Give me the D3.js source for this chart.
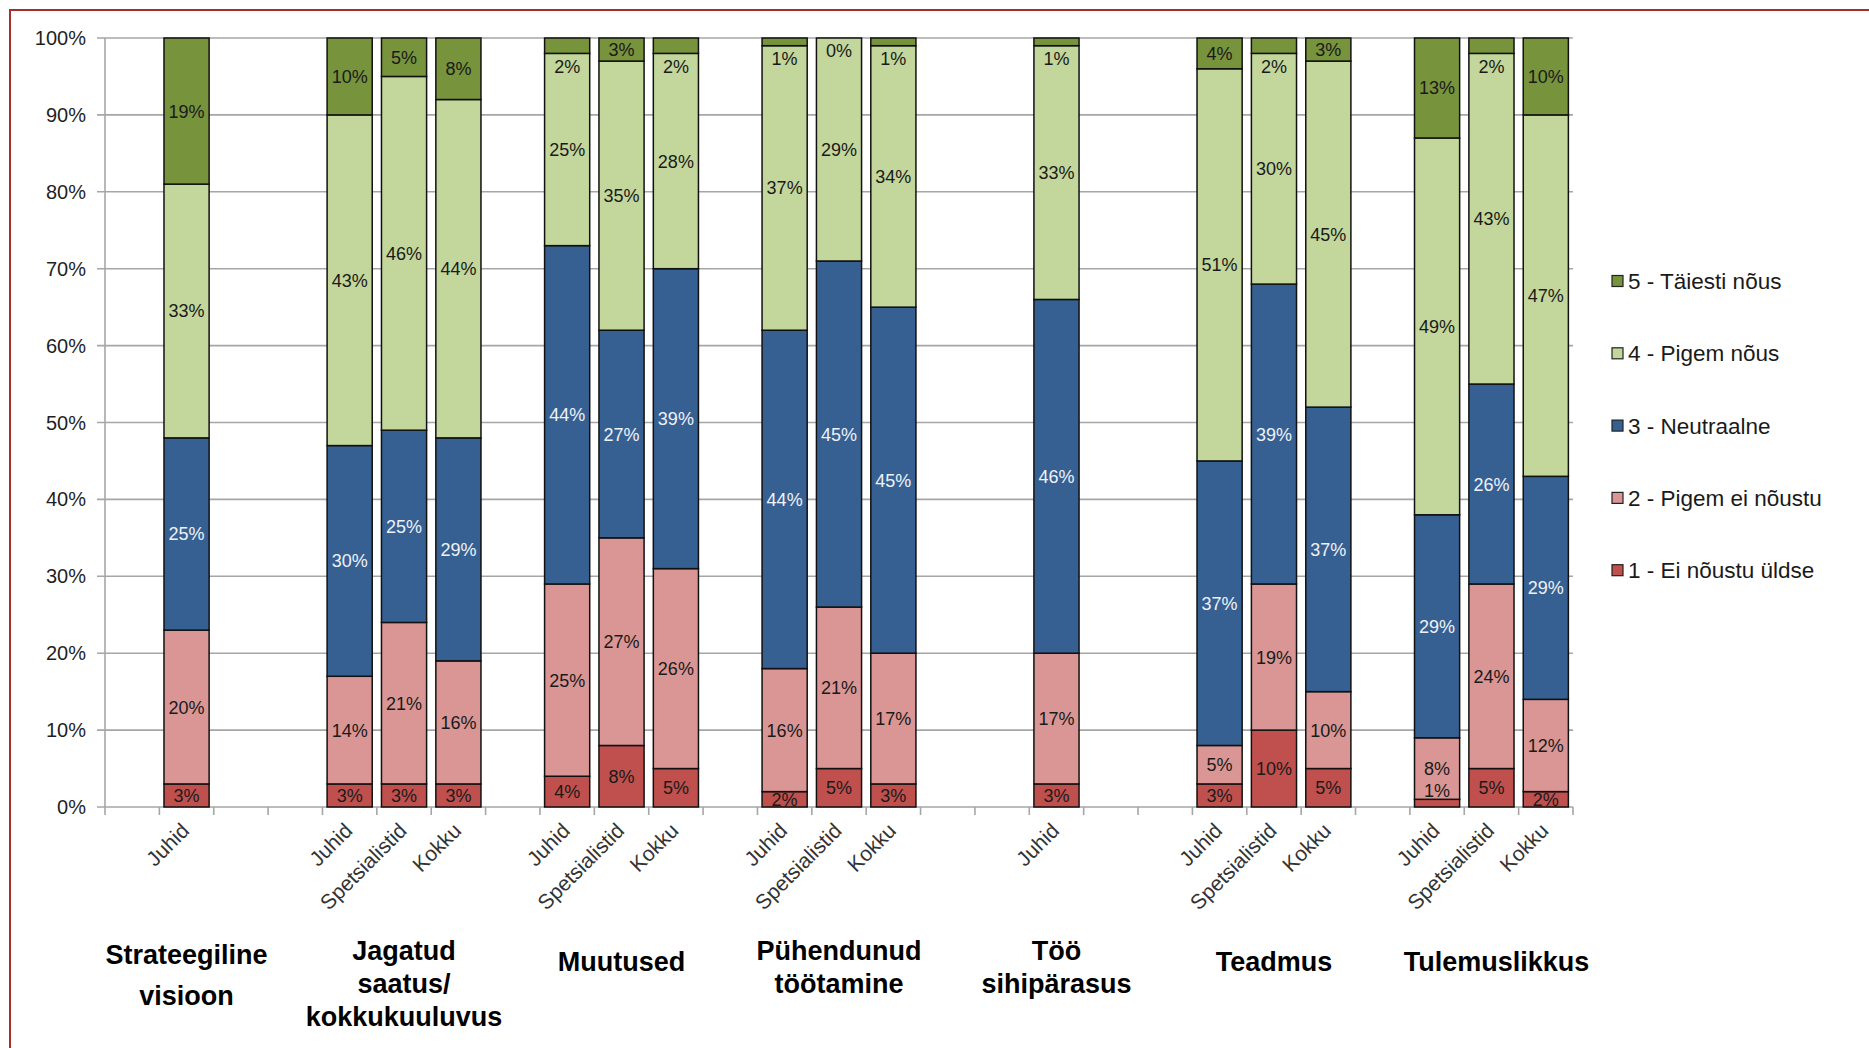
<!DOCTYPE html>
<html>
<head>
<meta charset="utf-8">
<script src="https://cdn.jsdelivr.net/npm/d3@7"></script>
<style>
  html, body { margin: 0; padding: 0; background: #fff; }
  svg { display: block; font-family: "Liberation Sans", Arial, Helvetica, sans-serif; }
</style>
</head>
<body>
<svg id="chart" width="1869" height="1048"></svg>
<script>
// ---- Data -------------------------------------------------------------
// Topic groups (label lines) and respondent groups per bar
const groupLabels = [
  ["Strateegiline", "visioon"],
  ["Jagatud", "saatus/", "kokkukuuluvus"],
  ["Muutused"],
  ["Pühendunud", "töötamine"],
  ["Töö", "sihipärasus"],
  ["Teadmus"],
  ["Tulemuslikkus"]
];
const roleNames = ["Juhid", "Spetsialistid", "Kokku"];

// One entry per bar: topic index and respondent-group index
const barGroup = [0, 1, 1, 1, 2, 2, 2, 3, 3, 3, 4, 5, 5, 5, 6, 6, 6];
const barRole  = [0, 0, 1, 2, 0, 1, 2, 0, 1, 2, 0, 0, 1, 2, 0, 1, 2];

// Answer shares (%) per bar, one array per answer option
const eiNoustuYldse   = [ 3,  3,  3,  3,  4,  8,  5,  2,  5,  3,  3,  3, 10,  5,  1,  5,  2];
const pigemEiNoustu   = [20, 14, 21, 16, 25, 27, 26, 16, 21, 17, 17,  5, 19, 10,  8, 24, 12];
const neutraalne      = [25, 30, 25, 29, 44, 27, 39, 44, 45, 45, 46, 37, 39, 37, 29, 26, 29];
const pigemNous       = [33, 43, 46, 44, 25, 35, 28, 37, 29, 34, 33, 51, 30, 45, 49, 43, 47];
const taiestiNous     = [19, 10,  5,  8,  2,  3,  2,  1,  0,  1,  1,  4,  2,  3, 13,  2, 10];

const seriesNames = [
  "1 - Ei nõustu üldse",
  "2 - Pigem ei nõustu",
  "3 - Neutraalne",
  "4 - Pigem nõus",
  "5 - Täiesti nõus"
];
const seriesValues = [eiNoustuYldse, pigemEiNoustu, neutraalne, pigemNous, taiestiNous];

const yTickValues = [0, 0.1, 0.2, 0.3, 0.4, 0.5, 0.6, 0.7, 0.8, 0.9, 1.0];

// ---- Styles -------------------------------------------------------------
const seriesColors = ["#C0504D", "#D99694", "#376092", "#C3D69B", "#77933C"];
const labelColors  = ["#1a1a1a", "#1a1a1a", "#EEF2F8", "#1a1a1a", "#1a1a1a"];
const gridColor = "#A6A6A6";

// ---- Layout -------------------------------------------------------------
const svg = d3.select("#chart");
const plot = { left: 105, right: 1573, top: 38, bottom: 807 };

// Each topic takes three slots, with one empty slot between topics
const slotCount = groupLabels.length * 4 - 1;
const x = d3.scaleBand()
  .domain(d3.range(slotCount))
  .range([plot.left, plot.right])
  .paddingInner(0.17)
  .paddingOuter(0.085);
const y = d3.scaleLinear().domain([0, 1]).range([plot.bottom, plot.top]);

const groupSize = groupLabels.map((_, g) => barGroup.filter(v => v === g).length);
const slotOf = i => 4 * barGroup[i] + (groupSize[barGroup[i]] === 1 ? 1 : barRole[i]);

const keys = seriesNames.map((_, k) => "s" + k);
const rows = barGroup.map((g, i) => {
  const r = { slot: slotOf(i), role: roleNames[barRole[i]] };
  seriesValues.forEach((arr, k) => { r["s" + k] = arr[i]; });
  return r;
});
const stacked = d3.stack().keys(keys).offset(d3.stackOffsetExpand)(rows);

// ---- Chart frame ------------------------------------------------------
svg.append("rect")
  .attr("x", 10).attr("y", 10)
  .attr("width", 1900).attr("height", 1100)
  .attr("fill", "none")
  .attr("stroke", "#A3302C")
  .attr("stroke-width", 2);

// ---- Gridlines + y axis -----------------------------------------------
svg.append("g").selectAll("line")
  .data(yTickValues)
  .join("line")
  .attr("x1", plot.left - 8).attr("x2", plot.right)
  .attr("y1", d => y(d)).attr("y2", d => y(d))
  .attr("stroke", gridColor).attr("stroke-width", 1.6);

svg.append("line")
  .attr("x1", plot.left).attr("x2", plot.left)
  .attr("y1", plot.top).attr("y2", plot.bottom)
  .attr("stroke", gridColor).attr("stroke-width", 1.6);

svg.append("g").selectAll("text")
  .data(yTickValues)
  .join("text")
  .attr("x", plot.left - 19)
  .attr("y", d => y(d))
  .attr("dy", "0.35em")
  .attr("text-anchor", "end")
  .attr("font-size", 20)
  .attr("fill", "#1f1f1f")
  .text(d3.format(".0%"));

// ---- x axis ticks at slot boundaries ----------------------------------
const step = x.step();
svg.append("g").selectAll("line")
  .data(d3.range(slotCount + 1))
  .join("line")
  .attr("x1", k => plot.left + k * step).attr("x2", k => plot.left + k * step)
  .attr("y1", plot.bottom).attr("y2", plot.bottom + 8)
  .attr("stroke", gridColor).attr("stroke-width", 1.6);

// ---- Bars -------------------------------------------------------------
const bars = svg.append("g");
stacked.forEach((layer, k) => {
  bars.append("g")
    .attr("fill", seriesColors[k])
    .attr("stroke", "#111")
    .attr("stroke-width", 1.5)
    .selectAll("rect")
    .data(layer)
    .join("rect")
    .attr("x", d => x(d.data.slot))
    .attr("width", x.bandwidth())
    .attr("y", d => y(d[1]))
    .attr("height", d => Math.max(0, y(d[0]) - y(d[1])));
});

// ---- Value labels -----------------------------------------------------
const labels = svg.append("g").attr("font-size", 18).attr("text-anchor", "middle");
stacked.forEach((layer, k) => {
  labels.append("g")
    .attr("fill", labelColors[k])
    .selectAll("text")
    .data(layer)
    .join("text")
    .attr("x", d => x(d.data.slot) + x.bandwidth() / 2)
    .attr("y", d => {
      const v = d.data["s" + k];
      if (k === keys.length - 1 && v <= 2) return y(d[0]) + 13;   // thin top slice: label just below it
      if (k === 0 && v < 2) return y(d[1]) - 9;                     // thin bottom slice: label just above it
      return (y(d[0]) + y(d[1])) / 2;
    })
    .attr("dy", "0.36em")
    .text(d => d.data["s" + k] + "%");
});

// ---- Respondent-group tick labels ------------------------------------
svg.append("g").selectAll("text")
  .data(rows)
  .join("text")
  .attr("transform", d => {
    const cx = x(d.slot) + x.bandwidth() / 2 + 4;
    const cy = plot.bottom + 25;
    return `translate(${cx},${cy}) rotate(-45)`;
  })
  .attr("text-anchor", "end")
  .attr("font-size", 21)
  .attr("fill", "#333")
  .text(d => d.role);

// ---- Topic labels -----------------------------------------------------
const topics = svg.append("g")
  .attr("font-size", 27)
  .attr("font-weight", "bold")
  .attr("text-anchor", "middle")
  .attr("fill", "#000");
groupLabels.forEach((lines, g) => {
  const cx = x(4 * g + 1) + x.bandwidth() / 2 + (g === groupLabels.length - 1 ? 5 : 0);
  const firstY = lines.length === 1 ? 971 : 960;
  const gap = lines.length === 2 && g === 0 ? 41 : 33;
  const t = topics.append("text").attr("x", cx);
  lines.forEach((line, j) => {
    t.append("tspan").attr("x", cx).attr("y", firstY + (g === 0 ? 4 : 0) + j * gap).text(line);
  });
});

// ---- Legend -----------------------------------------------------------
const legendOrder = d3.range(seriesNames.length).reverse();
const legend = svg.append("g");
legendOrder.forEach((k, row) => {
  const cy = 281 + row * 72.3;
  legend.append("rect")
    .attr("x", 1612).attr("y", cy - 5.5)
    .attr("width", 11).attr("height", 11)
    .attr("fill", seriesColors[k])
    .attr("stroke", "#222").attr("stroke-width", 1.2);
  legend.append("text")
    .attr("x", 1628).attr("y", cy)
    .attr("dy", "0.36em")
    .attr("font-size", 22.5)
    .attr("fill", "#1a1a1a")
    .text(seriesNames[k]);
});
</script>
</body>
</html>
